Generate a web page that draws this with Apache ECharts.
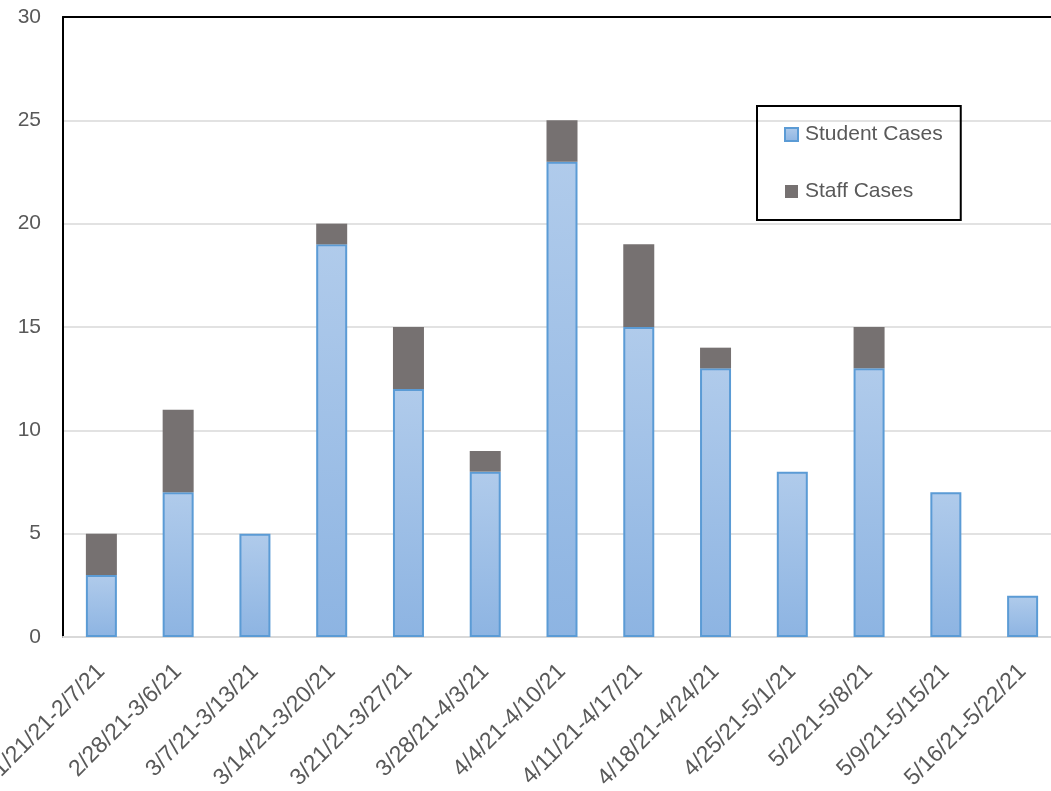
<!DOCTYPE html>
<html><head><meta charset="utf-8">
<script src="https://cdn.jsdelivr.net/npm/echarts@6/dist/echarts.min.js"></script>
<style>html,body{margin:0;padding:0;background:#fff;overflow:hidden;width:1051px;height:791px;}#c{width:1065px;height:791px;}</style>
</head><body><div id="c"></div>
<script>
const categories = ["1/21/21-2/7/21","2/28/21-3/6/21","3/7/21-3/13/21","3/14/21-3/20/21","3/21/21-3/27/21","3/28/21-4/3/21","4/4/21-4/10/21","4/11/21-4/17/21","4/18/21-4/24/21","4/25/21-5/1/21","5/2/21-5/8/21","5/9/21-5/15/21","5/16/21-5/22/21"];
const studentCases = [3,7,5,19,12,8,23,15,13,8,13,7,2];
const staffCases = [2,4,0,1,3,1,2,4,1,0,2,0,0];
const yTicks = [0,5,10,15,20,25,30];

const chart = echarts.init(document.getElementById('c'));
const font = 'Liberation Sans';
const studentFill = new echarts.graphic.LinearGradient(0,0,0,1,[{offset:0,color:'#b0cbeb'},{offset:1,color:'#8db4e2'}]);
chart.setOption({
  animation:false,
  backgroundColor:'#fff',
  grid:{left:63, top:17, width:998, bottom:154, containLabel:false, outerBoundsMode:'none'},
  legend:{
    orient:'vertical', left:757, top:106,
    data:[{name:'Student Cases', icon:'rect'},{name:'Staff Cases', icon:'rect'}],
    borderColor:'#000', borderWidth:2, padding:[18,18,18,27],
    itemGap:36, itemWidth:13, itemHeight:13,
    textStyle:{color:'#595959', fontSize:21, fontFamily:font, padding:[0,0,0,2]}
  },
  xAxis:[{
    type:'category', data:categories,
    axisLine:{lineStyle:{color:'#d9d9d9', width:2}},
    axisTick:{show:false},
    axisLabel:{rotate:45, interval:0, fontSize:23, color:'#595959', fontFamily:font, margin:31}
  },{
    type:'category', data:categories, position:'top',
    axisLine:{show:true, lineStyle:{color:'#000', width:2}},
    axisTick:{show:false}, axisLabel:{show:false}
  }],
  yAxis:{
    type:'value', min:yTicks[0], max:yTicks[yTicks.length-1], interval:5,
    axisLine:{show:true, lineStyle:{color:'#000', width:2}},
    axisTick:{show:false},
    splitLine:{lineStyle:{color:'#d9d9d9', width:1.5}},
    axisLabel:{fontSize:21, color:'#595959', fontFamily:font, margin:22}
  },
  series:[{
    name:'Student Cases', type:'bar', stack:'a', data:studentCases, barWidth:31,
    itemStyle:{color:studentFill, borderColor:'#5b9bd5', borderWidth:2}
  },{
    name:'Staff Cases', type:'bar', stack:'a', data:staffCases, barWidth:31,
    itemStyle:{color:'#767171'}
  }]
});
</script></body></html>
